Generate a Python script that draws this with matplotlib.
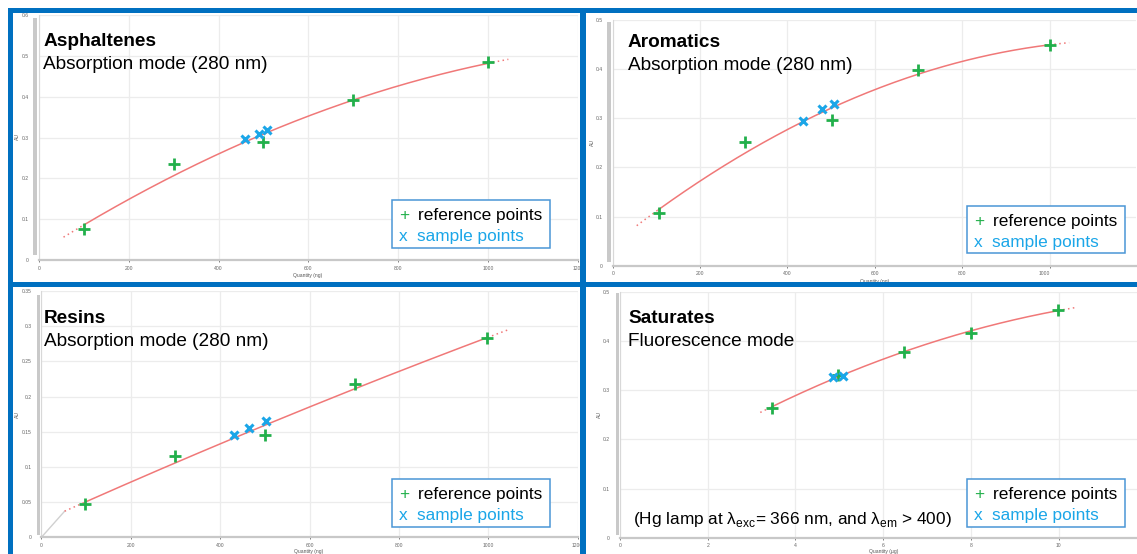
import numpy as np
import matplotlib
matplotlib.use("Agg")
import matplotlib.pyplot as plt
from matplotlib.patches import Rectangle

plt.rcParams['font.family'] = ['Liberation Sans', 'DejaVu Sans']
plt.rcParams['mathtext.fontset'] = 'custom'
plt.rcParams['mathtext.rm'] = 'Liberation Sans'

# ── data ───────────────────────────────────────────────────────
asph_ref_x = [100, 300, 500, 700, 1000]
asph_ref_y = [0.075, 0.234, 0.289, 0.392, 0.484]
asph_smp_x = [458, 490, 508]
asph_smp_y = [0.297, 0.308, 0.318]
asph_fit_span = (55, 1045)

arom_ref_x = [105, 302, 501, 699, 1000]
arom_ref_y = [0.107, 0.251, 0.297, 0.399, 0.449]
arom_smp_x = [436, 479, 506]
arom_smp_y = [0.294, 0.319, 0.329]
arom_fit_span = (55, 1045)

res_ref_x = [98, 298, 501, 702, 998]
res_ref_y = [0.047, 0.116, 0.146, 0.218, 0.283]
res_smp_x = [431, 464, 502]
res_smp_y = [0.145, 0.156, 0.165]
res_fit_span = (52, 1046)

sat_ref_x = [3.46, 4.98, 6.47, 7.99, 9.99]
sat_ref_y = [0.264, 0.331, 0.378, 0.417, 0.463]
sat_smp_x = [4.86, 5.08]
sat_smp_y = [0.326, 0.329]
sat_fit_span = (3.2, 10.4)

asph_yticks = [0, 0.1, 0.2, 0.3, 0.4, 0.5, 0.6]
arom_yticks = [0, 0.1, 0.2, 0.3, 0.4, 0.5]
res_yticks = [0, 0.05, 0.1, 0.15, 0.2, 0.25, 0.3, 0.35]
sat_yticks = [0, 0.1, 0.2, 0.3, 0.4, 0.5]
ng_xticks = [0, 200, 400, 600, 800, 1000, 1200]
ug_xticks = [0, 2, 4, 6, 8, 10, 12]

W, H = 1137, 554
BLUE = "#0070c0"
GREEN = "#22b04b"
CYAN = "#1ba6e8"
FIT = "#f07878"


def frac(x0, y0, x1, y1):
    return [x0 / W, 1 - y1 / H, (x1 - x0) / W, (y1 - y0) / H]


def ptext(fig, x, y, s, **kw):
    fig.text(x / W, 1 - y / H, s, **kw)


def prect(fig, x0, y0, x1, y1, **kw):
    fig.add_artist(Rectangle((x0 / W, 1 - y1 / H), (x1 - x0) / W,
                             (y1 - y0) / H, transform=fig.transFigure, **kw))


fig = plt.figure(figsize=(W / 100, H / 100), dpi=100)
fig.patch.set_facecolor("white")


def panel(box, xlim, ylim, xticks, yticks, rx, ry, sx, sy, span,
          scroll, origin_line=False, last_right=False):
    ax = fig.add_axes(frac(*box))
    ax.set_xlim(*xlim); ax.set_ylim(*ylim)
    ax.set_xticks([t for t in xticks if t <= xlim[1] + 1e-9])
    ax.set_yticks(yticks)
    ax.set_xticklabels([f"{t:g}" for t in ax.get_xticks()])
    ax.set_yticklabels([f"{t:g}" for t in yticks])
    ax.grid(True, color="#ececec", lw=0.9)
    ax.set_axisbelow(True)
    for s in ["top", "right"]:
        ax.spines[s].set_visible(False)
    ax.spines["bottom"].set_color("#c8c8c8"); ax.spines["bottom"].set_linewidth(1.6)
    ax.spines["left"].set_color("#d8d8d8"); ax.spines["left"].set_linewidth(0.8)
    ax.tick_params(axis="x", labelsize=3.6, colors="#666666", length=1.5,
                   width=0.6, pad=2.5)
    ax.tick_params(axis="y", labelsize=3.6, colors="#666666", length=0, pad=7)
    for lab in ax.get_xticklabels() + ax.get_yticklabels():
        lab.set_clip_on(False)
    if last_right:
        ax.get_xticklabels()[-1].set_ha("right")

    coef = np.polyfit(rx, ry, 2)
    xs = np.linspace(min(rx), max(rx), 300)
    ax.plot(xs, np.polyval(coef, xs), color=FIT, lw=1.1, zorder=2)
    for a, b in [(span[0], min(rx)), (max(rx), span[1])]:
        xe = np.linspace(a, b, 30)
        ax.plot(xe, np.polyval(coef, xe), color=FIT, lw=1.1,
                ls=(0, (1, 2.2)), zorder=2)
    if origin_line:
        ax.plot([0, span[0]], [0, np.polyval(coef, span[0])],
                color="#d0d0d0", lw=1.0, zorder=1)

    ax.plot(rx, ry, ls="none", marker="+", ms=8.5, mew=2.0, color=GREEN, zorder=4)
    ax.plot(sx, sy, ls="none", marker="x", ms=6, mew=2.2, color=CYAN, zorder=4)

    # scroll bar left of the y axis
    prect(fig, scroll[0], scroll[1], scroll[2], scroll[3],
          facecolor="#c9c9c9", edgecolor="none", zorder=3)
    return ax


def legend(x0, y0, x1, y1):
    prect(fig, x0, y0, x1, y1, facecolor="white", edgecolor="#4a96d6",
          lw=1.1, zorder=4)
    ptext(fig, x0 + 12, y0 + 20, "+", color=GREEN, fontsize=12.4,
          ha="center", va="baseline", zorder=5)
    ptext(fig, x0 + 26, y0 + 20, "reference points", color="black",
          fontsize=12.4, va="baseline", zorder=5)
    ptext(fig, x0 + 11, y0 + 41, "x", color=CYAN, fontsize=12.4,
          ha="center", va="baseline", zorder=5)
    ptext(fig, x0 + 25, y0 + 41, "sample points", color=CYAN,
          fontsize=12.4, va="baseline", zorder=5)


def titles(x, y, name, mode):
    ptext(fig, x, y, name, fontsize=13.7, fontweight="bold", va="baseline")
    ptext(fig, x, y + 23, mode, fontsize=13.7, va="baseline")


def axis_labels(au_xy, q_xy, unit):
    ptext(fig, au_xy[0], au_xy[1], "AU", fontsize=3.6, color="#555555",
          rotation=90, ha="center", va="center")
    ptext(fig, q_xy[0], q_xy[1], f"Quantity ({unit})", fontsize=3.6,
          color="#555555", ha="center", va="center")


# Asphaltenes
panel((38.8, 15, 578, 260), (0, 1200), (0, 0.6), ng_xticks, asph_yticks,
      asph_ref_x, asph_ref_y, asph_smp_x, asph_smp_y, asph_fit_span,
      (33.3, 18, 37, 255))
titles(43.3, 46, "Asphaltenes", "Absorption mode (280 nm)")
legend(392, 200, 550, 248)
axis_labels((17, 137), (308, 276), "ng")

# Aromatics
panel((612.7, 20, 1136, 265.7), (0, 1198), (0, 0.5), ng_xticks, arom_yticks,
      arom_ref_x, arom_ref_y, arom_smp_x, arom_smp_y, arom_fit_span,
      (606.6, 22, 611, 262), last_right=True)
titles(628, 47, "Aromatics", "Absorption mode (280 nm)")
legend(967, 206, 1125, 253)
axis_labels((592, 143), (875, 281), "ng")

# Resins
panel((41.4, 291, 577.7, 537.3), (0, 1200), (0, 0.35), ng_xticks, res_yticks,
      res_ref_x, res_ref_y, res_smp_x, res_smp_y, res_fit_span,
      (37, 295, 40.4, 535), origin_line=True)
titles(43.6, 323, "Resins", "Absorption mode (280 nm)")
legend(392, 479, 550, 527)
axis_labels((17.4, 415), (309, 552), "ng")

# Saturates
panel((619.8, 291.7, 1137, 537.7), (0, (1137 - 619.8) / 43.9), (0, 0.5),
      ug_xticks, sat_yticks, sat_ref_x, sat_ref_y, sat_smp_x, sat_smp_y,
      sat_fit_span, (615.5, 293, 619, 535))
titles(628, 323, "Saturates", "Fluorescence mode")
legend(967, 479, 1125, 527)
axis_labels((599.5, 415), (884, 552), "µg")
ptext(fig, 632.6, 524,
      r"(Hg lamp at λ$_{\mathrm{exc}}$= 366 nm, and λ$_{\mathrm{em}}$ > 400)",
      fontsize=12.4, va="baseline")

# blue frames around the four screenshots
for box in [(8, 8, W, 13),          # top edge
            (8, 281.5, W, 286.5),   # middle horizontal
            (8, 8, 13, H),          # left edge
            (580, 8, 586, H)]:      # middle vertical
    prect(fig, *box, facecolor=BLUE, edgecolor="none", zorder=10)

fig.savefig("out.png", dpi=100, facecolor="white")
